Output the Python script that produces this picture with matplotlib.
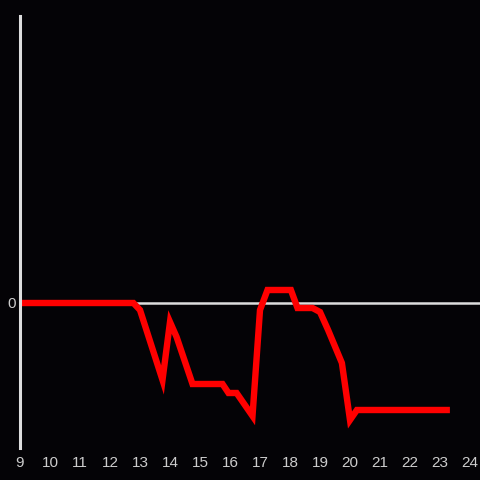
import matplotlib
matplotlib.use("Agg")
import matplotlib.pyplot as plt

hours = [9.0, 12.78, 13.0, 13.75, 14.0, 14.22, 14.75, 15.75, 15.95, 16.22, 16.75,
         17.0, 17.25, 18.03, 18.25, 18.75, 19.0, 19.27, 19.73, 20.0, 20.23, 23.33]
values = [0.0, 0.0, -0.7, -7.7, -1.9, -3.4, -8.1, -8.1, -9.0, -9.0, -11.3,
          -0.7, 1.3, 1.3, -0.5, -0.5, -0.9, -2.7, -6.0, -11.7, -10.7, -10.7]
xticks = list(range(9, 25))
yticks = [0]

bg = "#040306"
fig = plt.figure(figsize=(4.8, 4.8), dpi=100, facecolor=bg)
ax = fig.add_axes([20/480, 32/480, 460/480, 432/480], facecolor=bg)

ax.axhline(0, color="#dddddd", lw=1.8, zorder=1)
ax.plot(hours, values, color="#ff0000", lw=4.6, solid_joinstyle="miter",
        solid_capstyle="butt", zorder=2)

ax.set_xlim(9, 24 + 1/3)
ax.set_ylim(-14.5, 28.7)
ax.set_xticks(xticks)
ax.set_yticks(yticks)
ax.set_xticklabels([str(t) for t in xticks])
ax.set_yticklabels([str(t) for t in yticks])

for s in ["top", "right", "bottom"]:
    ax.spines[s].set_visible(False)
ax.spines["left"].set_color("#dddddd")
ax.spines["left"].set_linewidth(2.2)

ax.tick_params(axis="both", length=0, colors="#cccccc", labelsize=11)
ax.tick_params(axis="x", pad=6)
ax.tick_params(axis="y", pad=3)
for lab in ax.get_xticklabels() + ax.get_yticklabels():
    lab.set_fontfamily("Liberation Sans")

fig.savefig("out.png", dpi=100, facecolor=bg)
